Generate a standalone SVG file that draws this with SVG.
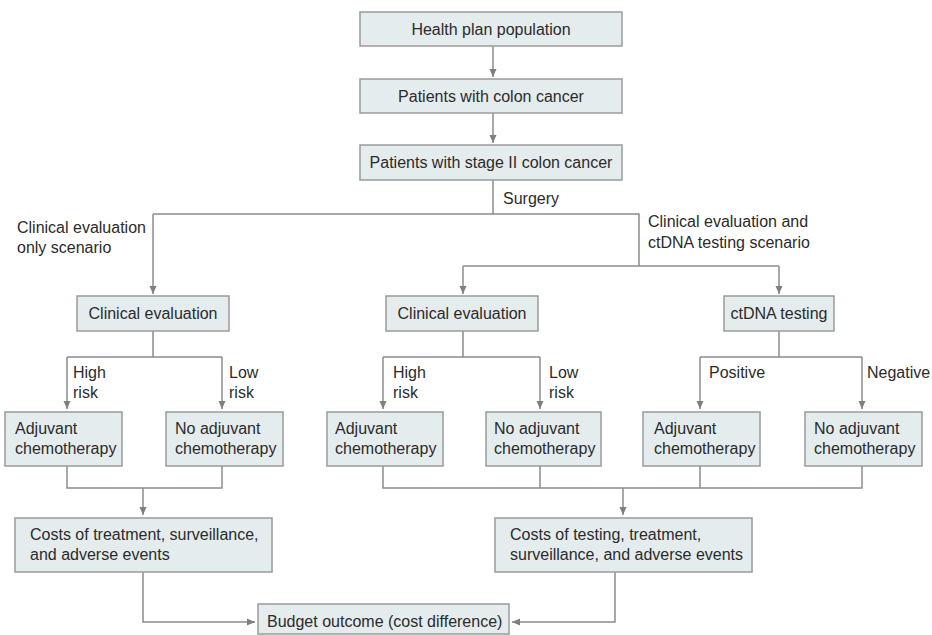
<svg xmlns="http://www.w3.org/2000/svg" width="932" height="635" viewBox="0 0 932 635">
<style>
.box{fill:#e4ecee;stroke:#9b9b9b;stroke-width:1.5}
.t{font-family:"Liberation Sans",Arial,sans-serif;font-size:16px;fill:#2b2b2b}
.c{text-anchor:middle}
.ln{fill:none;stroke:#8c8c8c;stroke-width:1.5}
</style>
<defs>
<marker id="ah" markerUnits="userSpaceOnUse" markerWidth="8" markerHeight="8" refX="8" refY="4" orient="auto">
<path d="M0,0.5 L8,4 L0,7.5 z" fill="#7f7f7f"/>
</marker>
</defs>
<rect width="932" height="635" fill="#ffffff"/>
<g id="connectors">
<path class="ln" d="M493,46 V77" marker-end="url(#ah)"/>
<path class="ln" d="M493,113 V143" marker-end="url(#ah)"/>
<path class="ln" d="M493,180 V214"/>
<path class="ln" d="M153,214 H639 V266"/>
<path class="ln" d="M153,214 V294" marker-end="url(#ah)"/>
<path class="ln" d="M463,266 H779"/>
<path class="ln" d="M463,266 V294" marker-end="url(#ah)"/>
<path class="ln" d="M779,266 V294" marker-end="url(#ah)"/>
<path class="ln" d="M153,331 V357 M67,357 H222"/>
<path class="ln" d="M67,357 V409" marker-end="url(#ah)"/>
<path class="ln" d="M222,357 V409" marker-end="url(#ah)"/>
<path class="ln" d="M463,331 V357 M383,357 H540"/>
<path class="ln" d="M383,357 V409" marker-end="url(#ah)"/>
<path class="ln" d="M540,357 V409" marker-end="url(#ah)"/>
<path class="ln" d="M779,331 V357 M700,357 H862"/>
<path class="ln" d="M700,357 V409" marker-end="url(#ah)"/>
<path class="ln" d="M862,357 V409" marker-end="url(#ah)"/>
<path class="ln" d="M67,466 V488 H222 V466"/>
<path class="ln" d="M143,488 V515" marker-end="url(#ah)"/>
<path class="ln" d="M383,466 V488 H862 V466 M540,466 V488 M700,466 V488"/>
<path class="ln" d="M623,488 V515" marker-end="url(#ah)"/>
<path class="ln" d="M143,572 V622 H255" marker-end="url(#ah)"/>
<path class="ln" d="M615,572 V622 H512" marker-end="url(#ah)"/>
</g>
<g id="labels">
<text class="t" x="503" y="204">Surgery</text>
<text class="t" x="17" y="233">Clinical evaluation</text>
<text class="t" x="17" y="253">only scenario</text>
<text class="t" x="648" y="227">Clinical evaluation and</text>
<text class="t" x="648" y="248">ctDNA testing scenario</text>
<text class="t" x="73" y="378">High</text>
<text class="t" x="73" y="398">risk</text>
<text class="t" x="229" y="378">Low</text>
<text class="t" x="229" y="398">risk</text>
<text class="t" x="393" y="378">High</text>
<text class="t" x="393" y="398">risk</text>
<text class="t" x="549" y="378">Low</text>
<text class="t" x="549" y="398">risk</text>
<text class="t" x="709" y="378">Positive</text>
<text class="t" x="867" y="378">Negative</text>
</g>
<g id="n-population"><rect class="box" x="360" y="12" width="262" height="34"/><text class="t c" x="491" y="35">Health plan population</text></g>
<g id="n-colon"><rect class="box" x="360" y="79" width="262" height="34"/><text class="t c" x="491" y="102">Patients with colon cancer</text></g>
<g id="n-stage2"><rect class="box" x="360" y="145" width="262" height="35"/><text class="t c" x="491" y="168">Patients with stage II colon cancer</text></g>
<g id="n-ce-left"><rect class="box" x="77" y="296" width="152" height="35"/><text class="t c" x="153" y="319">Clinical evaluation</text></g>
<g id="n-ce-mid"><rect class="box" x="386" y="296" width="152" height="35"/><text class="t c" x="462" y="319">Clinical evaluation</text></g>
<g id="n-ctdna"><rect class="box" x="724" y="296" width="110" height="35"/><text class="t c" x="779" y="319">ctDNA testing</text></g>
<g id="n-adj-1"><rect class="box" x="5" y="412" width="117" height="54"/><text class="t" x="15" y="434">Adjuvant</text><text class="t" x="15" y="454">chemotherapy</text></g>
<g id="n-noadj-1"><rect class="box" x="166" y="412" width="117" height="54"/><text class="t" x="175" y="434">No adjuvant</text><text class="t" x="175" y="454">chemotherapy</text></g>
<g id="n-adj-2"><rect class="box" x="327" y="412" width="116" height="54"/><text class="t" x="335" y="434">Adjuvant</text><text class="t" x="335" y="454">chemotherapy</text></g>
<g id="n-noadj-2"><rect class="box" x="486" y="412" width="115" height="54"/><text class="t" x="494" y="434">No adjuvant</text><text class="t" x="494" y="454">chemotherapy</text></g>
<g id="n-adj-3"><rect class="box" x="643" y="412" width="117" height="54"/><text class="t" x="654" y="434">Adjuvant</text><text class="t" x="654" y="454">chemotherapy</text></g>
<g id="n-noadj-3"><rect class="box" x="805" y="412" width="117" height="54"/><text class="t" x="814" y="434">No adjuvant</text><text class="t" x="814" y="454">chemotherapy</text></g>
<g id="n-costs-1"><rect class="box" x="15" y="518" width="257" height="54"/><text class="t" x="30" y="540">Costs of treatment, surveillance,</text><text class="t" x="30" y="560">and adverse events</text></g>
<g id="n-costs-2"><rect class="box" x="495" y="518" width="257" height="54"/><text class="t" x="510" y="540">Costs of testing, treatment,</text><text class="t" x="510" y="560">surveillance, and adverse events</text></g>
<g id="n-budget"><rect class="box" x="258" y="604" width="251" height="30"/><text class="t" x="267" y="627">Budget outcome (cost difference)</text></g>
</svg>
